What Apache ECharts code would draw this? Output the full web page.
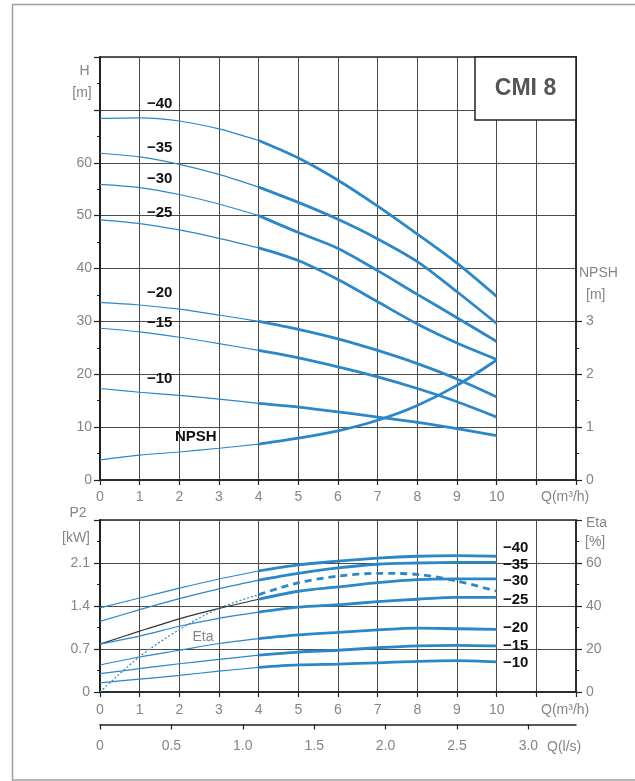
<!DOCTYPE html>
<html>
<head>
<meta charset="utf-8">
<script src="https://cdn.jsdelivr.net/npm/echarts@6/dist/echarts.min.js"></script>
<style>
html,body{margin:0;padding:0;background:#fff;}
#c{width:635px;height:781px;}
</style>
</head>
<body>
<div id="c"></div>
<script>
// ---------- data ----------
const Q = [0,1,2,3,4,5,6,7,8,9,10];               // m3/h
const speeds = ['−40','−35','−30','−25','−20','−15','−10'];

// Head H [m]
const H40 = [68.4,68.5,67.9,66.4,64.2,60.9,56.7,51.8,46.5,41.0,34.7];
const H35 = [61.8,61.1,59.7,57.8,55.4,52.5,49.3,45.6,41.3,35.6,29.6];
const H30 = [55.9,55.3,54.0,52.2,50.0,46.8,43.8,39.6,35.1,30.7,26.2];
const H25 = [49.2,48.5,47.3,45.7,43.9,41.5,37.9,33.7,29.5,25.9,22.8];
const H20 = [33.6,33.1,32.3,31.2,30.0,28.5,26.7,24.5,22.0,19.1,15.7];
const H15 = [28.7,28.0,27.0,25.8,24.5,23.1,21.4,19.5,17.3,14.8,11.9];
const H10 = [17.3,16.6,16.0,15.3,14.5,13.8,12.9,11.9,10.9,9.7,8.4];
// NPSH [m]
const NPSH = [0.38,0.47,0.53,0.60,0.68,0.79,0.93,1.13,1.41,1.79,2.27];

// Power P2 [kW]
const P40 = [1.37,1.53,1.69,1.84,1.97,2.07,2.13,2.18,2.21,2.22,2.21];
const P35 = [1.15,1.34,1.52,1.68,1.82,1.93,2.02,2.08,2.10,2.11,2.11];
const P30 = [0.78,0.99,1.19,1.36,1.51,1.64,1.71,1.78,1.83,1.84,1.84];
const P25 = [0.78,0.91,1.07,1.20,1.30,1.38,1.42,1.47,1.51,1.54,1.54];
const P20 = [0.44,0.57,0.68,0.79,0.87,0.93,0.97,1.01,1.04,1.03,1.02];
const P15 = [0.30,0.38,0.46,0.53,0.60,0.65,0.68,0.72,0.75,0.76,0.75];
const P10 = [0.15,0.21,0.27,0.34,0.40,0.44,0.455,0.475,0.50,0.51,0.49];
// Efficiency Eta [%]
const ETA = [0,16.5,29,39,45.3,50.8,53.9,55.2,54.7,51.6,46.9];

// tick labels shown
const qLabels = [0,1,2,3,4,5,6,7,8,9,10];
const hLabels = [0,10,20,30,40,50,60];
const npshLabels = [0,1,2,3];
const npshMinor = [0.5,1.5,2.5];
const p2Labels = ['0','0.7','1.4','2.1'];
const etaLabels = [0,20,40,60];
const lsValues = [0,0.5,1,1.5,2,2.5,3];
const lsLabels = ['0','0.5','1.0','1.5','2.0','2.5','3.0'];

// ---------- style ----------
const BLUE = '#2b87c8';
const GRID = '#4a4a4a';
const AX = '#222';
const LBL = '#858585';
const FONT = 'Liberation Sans, Arial, sans-serif';
const SPLIT = 4; // thin part ends / thick part starts at this Q

function pts(vals, from, to){
  const out=[];
  for(let i=0;i<Q.length;i++){ if(Q[i]>=from && Q[i]<=to) out.push([Q[i], vals[i]]); }
  return out;
}
function curve(vals, xi, yi, thinColor, thinType, thickType){
  return [
    {type:'line', xAxisIndex:xi, yAxisIndex:yi, data:pts(vals,0,SPLIT), smooth:0.3, symbol:'none', silent:true,
     lineStyle:{color:thinColor||BLUE, width:1.2, type:thinType||'solid'}},
    {type:'line', xAxisIndex:xi, yAxisIndex:yi, data:pts(vals,SPLIT,10), smooth:0.3, symbol:'none', silent:true,
     lineStyle:{color:BLUE, width:2.8, type:thickType||'solid'}}
  ];
}

let series = [];
[H40,H35,H30,H25,H20,H15,H10].forEach(v=>{ series = series.concat(curve(v,0,0)); });
series = series.concat(curve(NPSH,0,1));
[P40,P35].forEach(v=>{ series = series.concat(curve(v,1,2)); });
series = series.concat(curve(P30,1,2,'#333'));
[P25,P20,P15,P10].forEach(v=>{ series = series.concat(curve(v,1,2)); });
series = series.concat(curve(ETA,1,3,BLUE,[2,2],[7,5]));

const lblStyle = {color:LBL, fontSize:14, fontFamily:FONT};

function xAxisQ(gi, margin){
  return {type:'value', gridIndex:gi, min:0, max:12, interval:1,
    axisLine:{show:true, lineStyle:{color:AX, width:1.5}},
    axisTick:{show:true, length:5, lineStyle:{color:AX, width:1.2}},
    axisLabel:Object.assign({margin:margin, formatter:v=> qLabels.indexOf(v)>=0 ? String(v) : ''}, lblStyle),
    splitLine:{show:true, lineStyle:{color:GRID, width:1}}};
}
function yAxisSide(gi, pos, min, max, interval, fmt, split, margin){
  return {type:'value', gridIndex:gi, position:pos, min:min, max:max, interval:interval,
    axisLine:{show:true, lineStyle:{color:AX, width: pos==='left'?2:1.5}},
    axisTick:{show:true, length:6, lineStyle:{color:AX, width:1.2}},
    minorTick:{show:true, splitNumber:2, length:3, lineStyle:{color:AX, width:1}},
    axisLabel:Object.assign({margin:margin, formatter:fmt}, lblStyle),
    splitLine:{show:split, lineStyle:{color:GRID, width:1}}};
}

function txt(x,y,s,opt){
  return {type:'text', x:x, y:y, silent:true, style:Object.assign({text:s, fill:LBL, fontSize:14, fontFamily:FONT,
    textAlign:'left', textVerticalAlign:'middle'}, opt||{})};
}
const bold = {fill:'#111', fontSize:15, fontWeight:'bold'};

const topLabelY = [104,148,179,213,293,323,379];
const botLabelY = [548,565,581,600,628,646,663];
const graphics = [
  // outer frame
  {type:'polyline', silent:true, shape:{points:[[635,4.5],[12.5,4.5],[12.5,780],[635,780]]}, style:{stroke:'#a0a0a0', lineWidth:1.5, fill:null}},
  // title box
  {type:'rect', silent:true, shape:{x:475, y:57, width:101, height:63}, style:{stroke:'#222', lineWidth:1.5, fill:'#fff'}, z:10},
  txt(525.5,89,'CMI 8',{textAlign:'center', fill:'#555', fontSize:23, fontWeight:'bold'}),
  // axis titles
  txt(84.5,71,'H',{textAlign:'center'}),
  txt(82,93,'[m]',{textAlign:'center'}),
  txt(579,273,'NPSH'),
  txt(586,295,'[m]'),
  txt(541,497,'Q(m³/h)'),
  txt(78,513,'P2',{textAlign:'center'}),
  txt(76,538,'[kW]',{textAlign:'center'}),
  txt(586,523,'Eta'),
  txt(585,542,'[%]'),
  txt(541,710,'Q(m³/h)'),
  txt(547,747,'Q(l/s)'),
  txt(203,637,'Eta',{textAlign:'center', fontSize:14}),
  txt(175,437,'NPSH',bold)
];
speeds.forEach((s,i)=>{
  graphics.push(txt(147,topLabelY[i],s,bold));
  graphics.push(txt(503,botLabelY[i],s,bold));
});
graphics.forEach(g=>{ if(g.z===undefined) g.z = 20; });

const option = {
  animation:false,
  backgroundColor:'#fff',
  grid:[
    {left:100, right:59, top:57, height:423, show:true, borderColor:AX, borderWidth:1.5, backgroundColor:'transparent'},
    {left:100, right:59, top:520, height:172, show:true, borderColor:AX, borderWidth:1.5, backgroundColor:'transparent'},
    {left:100, right:59, top:723.5, height:1, show:false}
  ],
  xAxis:[
    xAxisQ(0,10),
    xAxisQ(1,11),
    {type:'value', gridIndex:2, min:0, max:12/3.6, interval:0.5,
      axisLine:{show:true, lineStyle:{color:AX, width:1.5}},
      axisTick:{show:true, length:5, customValues:lsValues, lineStyle:{color:AX, width:1.2}},
      axisLabel:Object.assign({margin:15, customValues:lsValues,
        formatter:v=>{ const i=Math.round(v*2); return (Math.abs(v*2-i)<1e-6 && i<lsLabels.length) ? lsLabels[i] : ''; }}, lblStyle),
      splitLine:{show:false}}
  ],
  yAxis:[
    yAxisSide(0,'left',0,80,10,v=> hLabels.indexOf(v)>=0 ? String(v) : '', true, 8),
    {type:'value', gridIndex:0, position:'right', min:0, max:8, interval:1,
      axisLine:{show:true, lineStyle:{color:AX, width:1.5}},
      axisTick:{show:true, length:6, customValues:npshLabels, lineStyle:{color:AX, width:1.2}},
      axisLabel:Object.assign({margin:10, customValues:npshLabels, formatter:v=>String(v)}, lblStyle),
      splitLine:{show:false}},
    yAxisSide(1,'left',0,2.8,0.7,v=>{ const i=Math.round(v/0.7); return i<p2Labels.length ? p2Labels[i] : ''; }, true, 10),
    yAxisSide(1,'right',0,80,20,v=> etaLabels.indexOf(v)>=0 ? String(v) : '', false, 10),
    {type:'value', gridIndex:2, show:false, min:0, max:1},
    {type:'value', gridIndex:0, position:'right', min:0, max:8, interval:1,
      axisLine:{show:false},
      axisTick:{show:true, length:3, customValues:npshMinor, lineStyle:{color:AX, width:1}},
      axisLabel:{show:false},
      splitLine:{show:false}}
  ],
  series:series,
  graphic:graphics
};

const chart = echarts.init(document.getElementById('c'), null, {renderer:'canvas'});
chart.setOption(option);
</script>
</body>
</html>
